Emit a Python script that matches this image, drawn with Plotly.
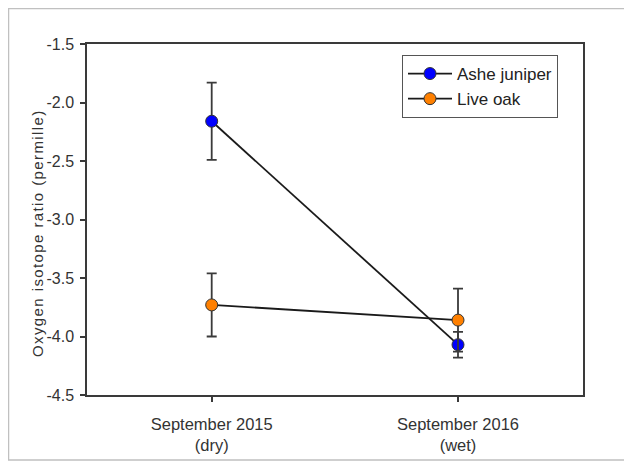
import plotly.graph_objects as go

categories = ["September 2015<br>(dry)", "September 2016<br>(wet)"]
x_pos = [0, 1]
juniper_vals = [-2.16, -4.07]
juniper_err = [0.33, 0.11]
oak_vals = [-3.73, -3.86]
oak_err = [0.27, 0.27]
y_ticks = [-1.5, -2.0, -2.5, -3.0, -3.5, -4.0, -4.5]
y_ticktext = ["%.1f" % v for v in y_ticks]  # plain hyphen minus

OFF = 8  # page body margin
W, H = 632, 463
# target page pixel positions of plot area
L, R, T, B = 87, 583, 44, 395
X0_PX, X1_PX = 211.7, 458.0  # page px of the two categories
unit = X1_PX - X0_PX
x_range = [(L - X0_PX) / unit, (R - X0_PX) / unit]

ax_col = "#3a3a3a"
fnt = "Liberation Sans, Arial, sans-serif"

fig = go.Figure()
for name, vals, err, col in [
    ("Ashe juniper", juniper_vals, juniper_err, "#0000ff"),
    ("Live oak", oak_vals, oak_err, "#ff8000"),
]:
    fig.add_trace(go.Scatter(
        x=x_pos, y=vals, name=name, mode="lines+markers",
        line=dict(color="#1a1a1a", width=1.8),
        marker=dict(size=12, color=col, line=dict(color="#333333", width=1)),
        error_y=dict(type="data", array=err, visible=True, color=ax_col,
                     thickness=1.8, width=5),
    ))

def px_x(p):
    return (p - L) / (R - L)

def px_y(p):
    return (B - p) / (B - T)

fig.add_shape(type="rect", xref="paper", yref="paper",
              x0=px_x(OFF + 0.5), x1=px_x(700), y0=px_y(460), y1=px_y(OFF + 0.5),
              line=dict(color="#c0c0c0", width=1.5), layer="below")

fig.add_annotation(
    xref="paper", yref="paper", x=px_x(37), y=px_y(233),
    xanchor="center", yanchor="middle", textangle=-90, showarrow=False,
    text='<span style="letter-spacing:1.4px">Oxygen isotope ratio (permille)</span>',
    font=dict(family=fnt, size=15, color="#333333"),
)

fig.update_layout(
    width=W, height=H,
    margin=dict(l=L - OFF, r=W - (R - OFF), t=T - OFF, b=H - (B - OFF)),
    paper_bgcolor="white", plot_bgcolor="white",
    font=dict(family=fnt, size=12, color="#333333"),
    showlegend=True,
    legend=dict(
        x=px_x(402), y=px_y(55), xanchor="left", yanchor="top",
        bordercolor="#555555", borderwidth=1, bgcolor="white",
        font=dict(family=fnt, size=17, color="#222222"),
        itemwidth=44, tracegroupgap=0,
    ),
    xaxis=dict(
        range=x_range, tickvals=x_pos, ticktext=categories,
        showline=True, linecolor=ax_col, linewidth=1.5, mirror=True,
        ticks="outside", ticklen=5, tickcolor=ax_col, tickwidth=1.5,
        showgrid=False, zeroline=False,
        tickfont=dict(family=fnt, size=16.5, color="#333333"),
        ticklabelstandoff=8,
    ),
    yaxis=dict(
        range=[-4.5, -1.5], tickvals=y_ticks, ticktext=y_ticktext,
        showline=True, linecolor=ax_col, linewidth=1.5, mirror=True,
        ticks="outside", ticklen=5, tickcolor=ax_col, tickwidth=1.5,
        showgrid=False, zeroline=False,
        tickfont=dict(family=fnt, size=16, color="#333333"),
        ticklabelstandoff=3,
    ),
)

fig.write_html("out.html")
